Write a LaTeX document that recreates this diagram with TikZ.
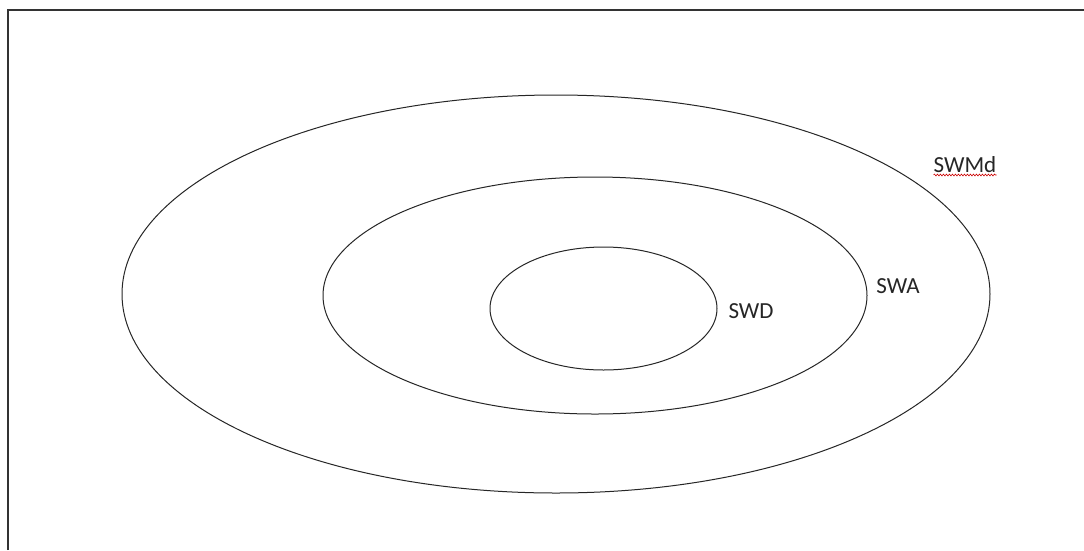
\documentclass[tikz,border=0pt]{standalone}
\usepackage{fontspec}
\setmainfont{Carlito}
\usetikzlibrary{decorations.pathmorphing}
\begin{document}
\begin{tikzpicture}[x=1pt,y=-1pt,
  ring/.style={draw=black!85, line width=1pt},
  lbl/.style={anchor=base, inner sep=0pt, text=black!85, font=\fontsize{23}{28}\selectfont},
  squig/.style={draw=red!80!black, line width=0.6pt, decorate, decoration={snake, amplitude=0.9pt, segment length=3pt}}]
\useasboundingbox (0,0) rectangle (1084,550);
\fill[white] (0,0) rectangle (1084,550);
\draw[black!80, line width=1.2pt] (8,550) -- (8,10) -- (1084,10);
\draw[ring] (556,294) ellipse [x radius=434, y radius=199];
\draw[ring] (595,295.5) ellipse [x radius=272, y radius=118.5];
\draw[ring] (603.5,308.5) ellipse [x radius=113.5, y radius=61.5];
\node[lbl] (swmd) at (965,172) {SWMd};
\node[lbl] (swa) at (898,293) {SWA};
\node[lbl] (swd) at (751,318) {SWD};
\draw[squig] ([yshift=-3pt]swmd.base west) -- ([yshift=-3pt]swmd.base east);
\end{tikzpicture}
\end{document}
